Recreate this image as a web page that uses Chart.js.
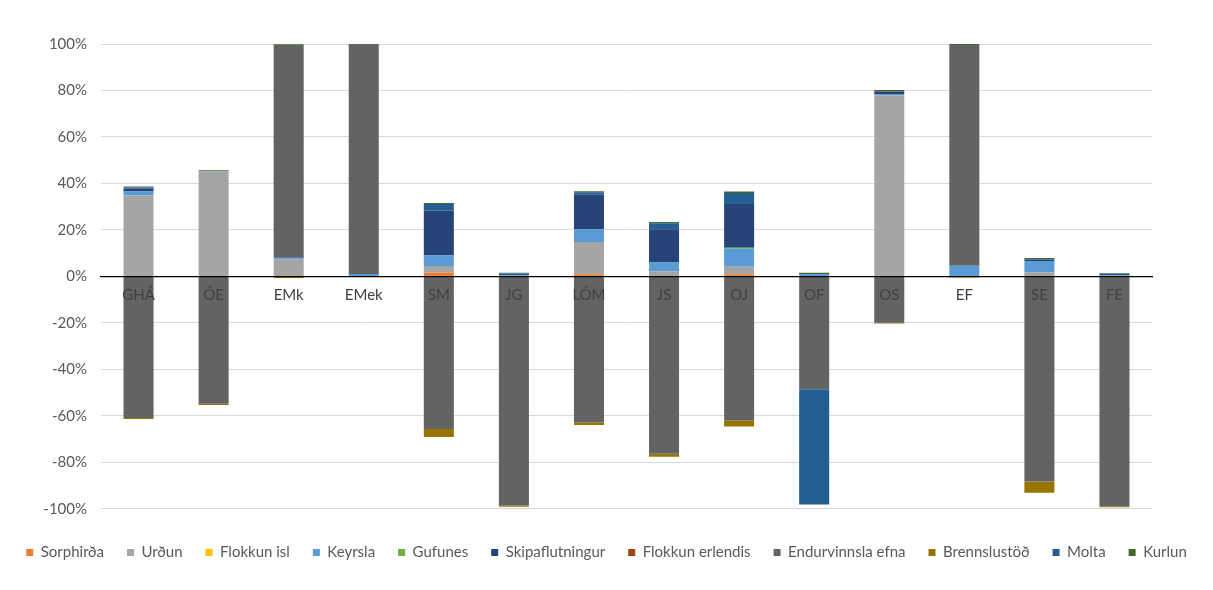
<!DOCTYPE html>
<html>
<head>
<meta charset="utf-8">
<script src="https://cdn.jsdelivr.net/npm/chart.js"></script>
<style>
  body { margin: 0; background: #fff; }
</style>
</head>
<body>
<canvas id="chart" width="1213" height="590"></canvas>
<script>
// Flokkar (x-ás)
const categories = ["GHÁ", "ÓE", "EMk", "EMek", "SM", "JG", "LÓM", "JS", "OJ", "OF", "OS", "EF", "SE", "FE"];

// Gildi í % fyrir hverja röð
const sorphirda = [0, 0, 0, 0, 1.6, 0, 0.9, 0, 0.9, 0, 0, 0, 0, 0];
const urdun = [34.8, 45.2, 7.2, 0, 2.9, 0, 13.9, 2.2, 3.2, 0, 77.9, 0, 1.8, 0];
const flokkunIsl = [0, 0, 0, 0, 0, 0, 0, 0, 0, 0, 0, 0, 0, 0];
const keyrsla = [1.7, 0, 0.6, 1.0, 4.5, 0.5, 5.5, 3.8, 7.8, 1.0, 0.6, 4.6, 4.8, 0.5];
const gufunes = [0, 0, 0, 0, 0, 0, 0, 0, 0.4, 0, 0, 0, 0, 0];
const skipaflutningur = [1.2, 0, 0.3, 0, 19.4, 0, 14.9, 14.3, 18.8, 0, 1.1, 0, 0.5, 0];
const flokkunErlendis = [0, 0, 0, 0, 0, 0, 0, 0, 0, 0, 0, 0, 0, 0];
const endurvinnsla = [-60.9, -54.8, 91.5, 99.0, -65.7, -98.6, -62.9, -76.3, -62.0, -48.6, -19.9, 95.0, -88.2, -98.9];
const brennslustod = [-0.5, -0.5, -0.7, 0, -3.4, -0.5, -1.0, -1.3, -2.6, 0, -0.4, -0.5, -4.9, -0.4];
const molta = [0.5, 0, 0, 0, 2.75, 0.8, 1.0, 2.6, 4.8, -49.5, 0, 0, 0.3, 0.5];
const kurlun = [0.5, 0.5, 0.3, 0, 0.4, 0.3, 0.4, 0.5, 0.6, 0.6, 0.6, 0.4, 0.5, 0.4];

// y-ás
const yTicks = [-100, -80, -60, -40, -20, 0, 20, 40, 60, 80, 100];

const series = [
  ["Sorphirða", sorphirda, "#ED7D31"],
  ["Urðun", urdun, "#A5A5A5"],
  ["Flokkun isl", flokkunIsl, "#FFC000"],
  ["Keyrsla", keyrsla, "#5B9BD5"],
  ["Gufunes", gufunes, "#70AD47"],
  ["Skipaflutningur", skipaflutningur, "#264478"],
  ["Flokkun erlendis", flokkunErlendis, "#9E480E"],
  ["Endurvinnsla efna", endurvinnsla, "#636363"],
  ["Brennslustöð", brennslustod, "#997300"],
  ["Molta", molta, "#255E91"],
  ["Kurlun", kurlun, "#43682B"],
];

const font = "Lato, 'Open Sans', sans-serif";

new Chart("chart", {
  type: "bar",
  data: {
    labels: categories,
    datasets: series.map(([label, values, color]) => ({
      label: label,
      data: values,
      backgroundColor: color,
      borderWidth: 0,
      barPercentage: 0.4,
      categoryPercentage: 1,
    })),
  },
  options: {
    responsive: false,
    animation: false,
    layout: {
      padding: { top: 44, right: 0, bottom: 20, left: 0 },
    },
    plugins: {
      tooltip: { enabled: false },
      legend: {
        position: "bottom",
        // tómur titill = bil milli grafs og skýringa
        title: { display: true, text: "", padding: { top: 0, bottom: 12 }, font: { size: 1 } },
        labels: {
          boxWidth: 7,
          boxHeight: 7,
          padding: 23,
          color: "#595959",
          font: { family: font, size: 15 },
        },
      },
    },
    scales: {
      x: {
        stacked: true,
        position: { y: 0 },
        grid: { display: false, drawTicks: false },
        border: { color: "#000", width: 1.2, z: 1 },
        ticks: {
          z: 1,
          color: "#404040",
          padding: 10,
          font: { family: font, size: 15 },
        },
      },
      y: {
        stacked: true,
        min: -100,
        max: 100,
        afterBuildTicks: (scale) => {
          scale.ticks = yTicks.map((v) => ({ value: v }));
        },
        afterFit: (scale) => {
          scale.width = 101;
        },
        grid: { color: "#d9d9d9", drawTicks: false },
        border: { display: false },
        ticks: {
          padding: 14,
          color: "#595959",
          font: { family: font, size: 15 },
          callback: (v) => v + "%",
        },
      },
      // tómur ás hægra megin, heldur plássi til hægri
      spacer: {
        position: "right",
        min: -100,
        max: 100,
        grid: { display: false, drawTicks: false },
        border: { display: false },
        ticks: { display: false },
        afterFit: (scale) => {
          scale.width = 61;
        },
      },
    },
  },
});
</script>
</body>
</html>
